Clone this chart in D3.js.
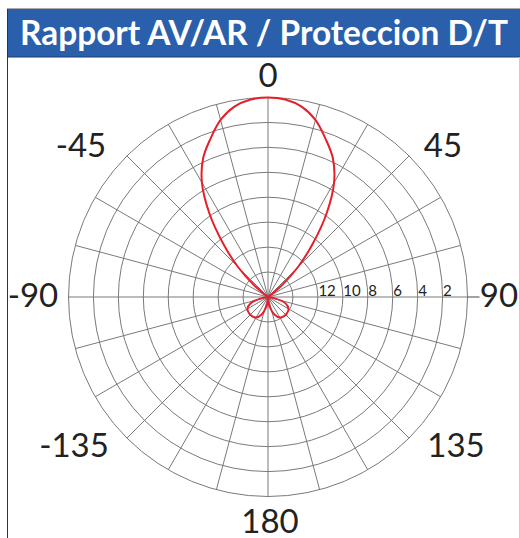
<!DOCTYPE html>
<html><head><meta charset="utf-8">
<script src="https://cdn.jsdelivr.net/npm/d3@7/dist/d3.min.js"></script>
<style>html,body{margin:0;padding:0;background:#fff;}svg{display:block;}</style>
</head><body>
<script>
// chart data
const TITLE = 'Rapport AV/AR / Proteccion D/T';
const spokeAngles = d3.range(0, 360, 15);
const ringDb = [14, 12, 10, 8, 6, 4, 2, 0];
const ringLabels = [12, 10, 8, 6, 4, 2];
const angleLabels = [0, 45, 90, 135, 180, -135, -90, -45];
// attenuation (dB below max)
const patternAngles = [-180, -175, -170, -160, -150, -140, -130, -120, -110, -100, -90, -70,
  -55, -50, -45, -40, -35, -30, -25, -20, -15, -10, -5, 0, 5, 10, 15, 20, 25, 30, 35, 40, 45, 50, 55,
  70, 90, 100, 110, 120, 130, 140, 150, 160, 170, 175];
const patternDb = [16, 15.6, 15.2, 14.5, 14.1, 14.0, 14.0, 14.1, 14.5, 15.5, 16, 16,
  16, 14.6, 12.6, 10.4, 7.8, 5.4, 3.7, 2.5, 1.3, 0.5, 0.1, 0, 0.1, 0.5, 1.3, 2.5, 3.7, 5.4, 7.8, 10.4, 12.6, 14.6, 16,
  16, 16, 15.5, 14.5, 14.1, 14.0, 14.0, 14.1, 14.5, 15.2, 15.6];

const W = 520, H = 538, cx = 268, cy = 297, R = 199.5;
const FONT = 'Lato, "Open Sans", sans-serif';
const GRID = '#7a7a7a';
// label placement (centre x, baseline y)
const labelPos = { '0': [268, 87], '45': [443, 157], '90': [499, 307], '135': [456, 457],
  '180': [270, 533], '-135': [74, 457], '-90': [33, 307], '-45': [81, 157] };

const svg = d3.select('body').append('svg').attr('width', W).attr('height', H);
const r = d3.scaleLinear().domain([16, 0]).range([0, R]).clamp(true);
const rad = a => a * Math.PI / 180;

// frame + title bar
svg.append('line').attr('x1', 7).attr('x2', W).attr('y1', 8.5).attr('y2', 8.5).attr('stroke', '#aaa');
svg.append('rect').attr('x', 7).attr('y', 9).attr('width', W - 7).attr('height', 48).attr('fill', '#2a5fac');
svg.append('line').attr('x1', 7).attr('x2', W).attr('y1', 57).attr('y2', 57).attr('stroke', '#1d3f73');
svg.append('line').attr('x1', 7.5).attr('x2', 7.5).attr('y1', 9).attr('y2', H).attr('stroke', '#333');
svg.append('line').attr('x1', 519.5).attr('x2', 519.5).attr('y1', 57).attr('y2', H).attr('stroke', '#ccc');
const title = svg.append('text').attr('x', 264).attr('y', 45).attr('text-anchor', 'middle')
  .attr('font-family', FONT).attr('font-weight', 700).attr('font-size', 30).attr('fill', '#fff').text(TITLE);
const tw = title.node().getComputedTextLength();
title.attr('font-size', 30 * 488 / tw);

const g = svg.append('g').attr('transform', `translate(${cx},${cy})`);
g.selectAll('circle.ring').data(ringDb).join('circle').attr('class', 'ring')
  .attr('r', d => r(d)).attr('fill', 'none').attr('stroke', GRID).attr('stroke-width', 1);
g.selectAll('line.spoke').data(spokeAngles).join('line').attr('class', 'spoke')
  .attr('x1', 0).attr('y1', 0)
  .attr('x2', d => R * Math.sin(rad(d))).attr('y2', d => -R * Math.cos(rad(d)))
  .attr('stroke', GRID).attr('stroke-width', 1);
// horizontal axis continues to the right label
g.append('line').attr('x1', R).attr('x2', R + 12).attr('y1', 0).attr('y2', 0).attr('stroke', '#444');

g.selectAll('text.ringlab').data(ringLabels).join('text').attr('class', 'ringlab')
  .attr('x', d => r(d) + 0.5).attr('y', -1)
  .attr('font-family', FONT).attr('font-size', 15).attr('fill', '#222').text(d => d);

const line = d3.lineRadial().angle(d => rad(d[0])).radius(d => r(d[1]))
  .curve(d3.curveCatmullRomClosed.alpha(0.5));
g.append('path').datum(d3.zip(patternAngles, patternDb)).attr('d', line)
  .attr('fill', 'none').attr('stroke', '#e5202b').attr('stroke-width', 2).attr('stroke-linejoin', 'round');

svg.selectAll('text.alab').data(angleLabels).join('text').attr('class', 'alab')
  .attr('x', d => labelPos[d][0]).attr('y', d => labelPos[d][1]).attr('text-anchor', 'middle')
  .attr('font-family', FONT).attr('font-size', 33).attr('fill', '#222').text(d => d);
</script>
</body></html>
